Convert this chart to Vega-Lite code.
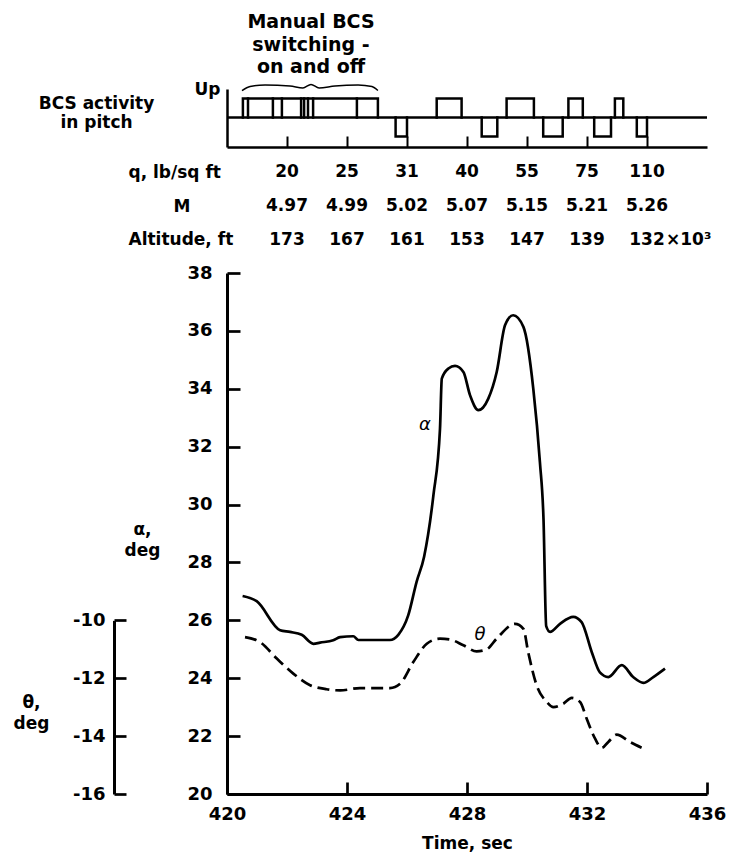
{
  "$schema": "https://vega.github.io/schema/vega-lite/v6.json",
  "background": "white",
  "padding": {"left": 13, "top": 13, "right": 5, "bottom": 5},
  "config": {
    "font": "DejaVu Sans",
    "view": {"stroke": null},
    "axis": {"grid": false, "labelFont": "DejaVu Sans", "labelFontWeight": "bold", "labelColor": "black", "titleFont": "DejaVu Sans", "titleFontWeight": "bold", "titleColor": "black", "domainColor": "black", "tickColor": "black"},
    "text": {"font": "DejaVu Sans", "fontWeight": "bold", "color": "black"},
    "title": {"font": "DejaVu Sans", "fontWeight": "bold", "color": "black"}
  },
  "spacing": 13,
  "vconcat": [
    {
      "width": 480,
      "height": 58,
      "title": {"text": ["Manual BCS", "switching -", "on and off"], "anchor": "start", "frame": "group", "align": "center", "dx": 84, "fontSize": 19, "lineHeight": 22.5, "offset": 3},
      "layer": [
        {
          "data": {"values": [{"level": 0}]},
          "mark": {"type": "rule", "color": "black", "strokeWidth": 2.5},
          "encoding": {"y": {"field": "level", "type": "quantitative", "scale": {"domain": [-1.55, 1.5], "nice": false, "zero": false},
            "axis": {"values": [1.5], "labelExpr": "'Up'", "ticks": false, "domainWidth": 2.5, "labelFontSize": 17, "labelPadding": 7,
              "title": ["BCS activity", "in pitch"], "titleAngle": 0, "titleAlign": "center", "titleBaseline": "middle", "titleX": -131, "titleY": 14.5, "titleFontSize": 17, "titleLineHeight": 19}}}
        },
        {
          "data": {"values": [
            {"seg": "m", "t": 420.53, "level": 0}, {"seg": "m", "t": 420.53, "level": 1}, {"seg": "m", "t": 425.03, "level": 1}, {"seg": "m", "t": 425.03, "level": 0},
            {"seg": "v1", "t": 420.70, "level": 0}, {"seg": "v1", "t": 420.70, "level": 1},
            {"seg": "v2", "t": 421.53, "level": 0}, {"seg": "v2", "t": 421.53, "level": 1},
            {"seg": "v3", "t": 421.83, "level": 0}, {"seg": "v3", "t": 421.83, "level": 1},
            {"seg": "v4", "t": 422.47, "level": 0}, {"seg": "v4", "t": 422.47, "level": 1},
            {"seg": "v5", "t": 422.57, "level": 0}, {"seg": "v5", "t": 422.57, "level": 1},
            {"seg": "v6", "t": 422.70, "level": 0}, {"seg": "v6", "t": 422.70, "level": 1},
            {"seg": "v7", "t": 422.87, "level": 0}, {"seg": "v7", "t": 422.87, "level": 1},
            {"seg": "v8", "t": 424.33, "level": 0}, {"seg": "v8", "t": 424.33, "level": 1},
            {"seg": "u1", "t": 426.99, "level": 0}, {"seg": "u1", "t": 426.99, "level": 1}, {"seg": "u1", "t": 427.82, "level": 1}, {"seg": "u1", "t": 427.82, "level": 0},
            {"seg": "u2", "t": 429.32, "level": 0}, {"seg": "u2", "t": 429.32, "level": 1}, {"seg": "u2", "t": 430.23, "level": 1}, {"seg": "u2", "t": 430.23, "level": 0},
            {"seg": "u3", "t": 431.38, "level": 0}, {"seg": "u3", "t": 431.38, "level": 1}, {"seg": "u3", "t": 431.86, "level": 1}, {"seg": "u3", "t": 431.86, "level": 0},
            {"seg": "u4", "t": 432.93, "level": 0}, {"seg": "u4", "t": 432.93, "level": 1}, {"seg": "u4", "t": 433.21, "level": 1}, {"seg": "u4", "t": 433.21, "level": 0},
            {"seg": "d1", "t": 425.62, "level": 0}, {"seg": "d1", "t": 425.62, "level": -1}, {"seg": "d1", "t": 426.0, "level": -1}, {"seg": "d1", "t": 426.0, "level": 0},
            {"seg": "d2", "t": 428.49, "level": 0}, {"seg": "d2", "t": 428.49, "level": -1}, {"seg": "d2", "t": 429.01, "level": -1}, {"seg": "d2", "t": 429.01, "level": 0},
            {"seg": "d3", "t": 430.54, "level": 0}, {"seg": "d3", "t": 430.54, "level": -1}, {"seg": "d3", "t": 431.19, "level": -1}, {"seg": "d3", "t": 431.19, "level": 0},
            {"seg": "d4", "t": 432.24, "level": 0}, {"seg": "d4", "t": 432.24, "level": -1}, {"seg": "d4", "t": 432.8, "level": -1}, {"seg": "d4", "t": 432.8, "level": 0},
            {"seg": "d5", "t": 433.66, "level": 0}, {"seg": "d5", "t": 433.66, "level": -1}, {"seg": "d5", "t": 434.0, "level": -1}, {"seg": "d5", "t": 434.0, "level": 0}
          ]},
          "transform": [{"window": [{"op": "row_number", "as": "ord"}]}],
          "mark": {"type": "line", "color": "black", "strokeWidth": 2.5, "strokeJoin": "miter", "strokeCap": "square"},
          "encoding": {
            "x": {"field": "t", "type": "quantitative", "scale": {"domain": [420, 436], "nice": false, "zero": false},
              "axis": {"orient": "bottom", "values": [422, 424, 426, 428, 430, 432, 434], "labels": false, "tickSize": -11, "tickWidth": 2, "domainWidth": 2.5, "title": null}},
            "y": {"field": "level", "type": "quantitative"},
            "detail": {"field": "seg", "type": "nominal"},
            "order": {"field": "ord", "type": "quantitative"}
          }
        },
        {
          "data": {"values": [
            {"t": 420.5, "level": 1.42}, {"t": 420.77, "level": 1.63}, {"t": 421.27, "level": 1.71}, {"t": 422.1, "level": 1.66},
            {"t": 422.53, "level": 1.55}, {"t": 422.8, "level": 1.74}, {"t": 423.07, "level": 1.55}, {"t": 423.6, "level": 1.66},
            {"t": 424.37, "level": 1.71}, {"t": 424.83, "level": 1.63}, {"t": 425.03, "level": 1.42}
          ]},
          "mark": {"type": "line", "color": "black", "strokeWidth": 1.5, "interpolate": "monotone"},
          "encoding": {"x": {"field": "t", "type": "quantitative"}, "y": {"field": "level", "type": "quantitative"}}
        }
      ]
    },
    {
      "width": 480,
      "height": 90,
      "data": {"values": [
        {"row": "q, lb/sq ft", "t": 422, "value": "20"}, {"row": "q, lb/sq ft", "t": 424, "value": "25"}, {"row": "q, lb/sq ft", "t": 426, "value": "31"},
        {"row": "q, lb/sq ft", "t": 428, "value": "40"}, {"row": "q, lb/sq ft", "t": 430, "value": "55"}, {"row": "q, lb/sq ft", "t": 432, "value": "75"},
        {"row": "q, lb/sq ft", "t": 434, "value": "110"},
        {"row": "M", "t": 422, "value": "4.97"}, {"row": "M", "t": 424, "value": "4.99"}, {"row": "M", "t": 426, "value": "5.02"},
        {"row": "M", "t": 428, "value": "5.07"}, {"row": "M", "t": 430, "value": "5.15"}, {"row": "M", "t": 432, "value": "5.21"},
        {"row": "M", "t": 434, "value": "5.26"},
        {"row": "Altitude, ft", "t": 422, "value": "173"}, {"row": "Altitude, ft", "t": 424, "value": "167"}, {"row": "Altitude, ft", "t": 426, "value": "161"},
        {"row": "Altitude, ft", "t": 428, "value": "153"}, {"row": "Altitude, ft", "t": 430, "value": "147"}, {"row": "Altitude, ft", "t": 432, "value": "139"},
        {"row": "Altitude, ft", "t": 434, "value": "132"}
      ]},
      "layer": [
        {
          "mark": {"type": "text", "fontSize": 17, "align": "center", "baseline": "middle"},
          "encoding": {
            "x": {"field": "t", "type": "quantitative", "scale": {"domain": [420, 436], "nice": false, "zero": false}, "axis": null},
            "y": {"field": "row", "type": "nominal", "sort": ["q, lb/sq ft", "M", "Altitude, ft"],
              "scale": {"type": "point", "padding": 0.34, "align": 0.5},
              "axis": {"domain": false, "ticks": false, "title": null, "labelAlign": "left", "labelFontSize": 17,
                "labelPadding": {"condition": {"test": "datum.value === 'M'", "value": 54}, "value": 99}}},
            "text": {"field": "value", "type": "nominal"}
          }
        },
        {
          "transform": [{"filter": "datum.value == '132'"}],
          "mark": {"type": "text", "fontSize": 17, "align": "left", "baseline": "middle", "dx": 19},
          "encoding": {
            "x": {"field": "t", "type": "quantitative"},
            "y": {"field": "row", "type": "nominal", "sort": ["q, lb/sq ft", "M", "Altitude, ft"]},
            "text": {"value": "×10³"}
          }
        }
      ]
    },
    {
      "width": 480,
      "height": 521,
      "layer": [
        {
          "data": {"values": [
            {"t": 420.52, "alpha": 26.84}, {"t": 420.99, "alpha": 26.66}, {"t": 421.77, "alpha": 25.66}, {"t": 422.1, "alpha": 25.6},
            {"t": 422.49, "alpha": 25.5}, {"t": 422.88, "alpha": 25.19}, {"t": 423.1, "alpha": 25.23}, {"t": 423.54, "alpha": 25.31},
            {"t": 423.77, "alpha": 25.42}, {"t": 424.21, "alpha": 25.45}, {"t": 424.38, "alpha": 25.32}, {"t": 425.43, "alpha": 25.32},
            {"t": 425.71, "alpha": 25.5}, {"t": 426.04, "alpha": 26.17}, {"t": 426.32, "alpha": 27.33}, {"t": 426.57, "alpha": 28.2},
            {"t": 426.88, "alpha": 30.32}, {"t": 427.1, "alpha": 32.62}, {"t": 427.16, "alpha": 34.35}, {"t": 427.38, "alpha": 34.7},
            {"t": 427.6, "alpha": 34.79}, {"t": 427.88, "alpha": 34.58}, {"t": 428.1, "alpha": 33.78}, {"t": 428.38, "alpha": 33.26},
            {"t": 428.71, "alpha": 33.66}, {"t": 428.99, "alpha": 34.58}, {"t": 429.27, "alpha": 36.2}, {"t": 429.54, "alpha": 36.54},
            {"t": 429.88, "alpha": 36.14}, {"t": 430.21, "alpha": 34.0}, {"t": 430.43, "alpha": 31.47}, {"t": 430.55, "alpha": 29.5},
            {"t": 430.64, "alpha": 25.8}, {"t": 430.77, "alpha": 25.6}, {"t": 431.1, "alpha": 25.88}, {"t": 431.54, "alpha": 26.12},
            {"t": 431.82, "alpha": 25.94}, {"t": 432.16, "alpha": 24.9}, {"t": 432.43, "alpha": 24.2}, {"t": 432.71, "alpha": 24.04},
            {"t": 433.16, "alpha": 24.45}, {"t": 433.54, "alpha": 24.04}, {"t": 433.88, "alpha": 23.84}, {"t": 434.21, "alpha": 24.04},
            {"t": 434.6, "alpha": 24.33}
          ]},
          "layer": [
            {
              "mark": {"type": "line", "color": "black", "strokeWidth": 2.7, "interpolate": "monotone"},
              "encoding": {
                "x": {"field": "t", "type": "quantitative", "scale": {"domain": [420, 436], "nice": false, "zero": false},
                  "axis": {"values": [420, 424, 428, 432, 436], "tickSize": -12, "tickWidth": 2.7, "domainWidth": 3, "labelPadding": 23, "labelFontSize": 18, "labelFlush": false,
                    "title": "Time, sec", "titleFontSize": 17, "titlePadding": 12}},
                "y": {"field": "alpha", "type": "quantitative", "scale": {"domain": [20, 38], "nice": false, "zero": false},
                  "axis": {"values": [20, 22, 24, 26, 28, 30, 32, 34, 36, 38], "tickSize": -13, "tickWidth": 2.7, "domainWidth": 3, "labelPadding": 28, "labelFontSize": 18,
                    "title": ["α,", "deg"], "titleAngle": 0, "titleAlign": "center", "titleBaseline": "middle", "titleX": -85, "titleY": 256, "titleFontSize": 17, "titleLineHeight": 21}}
              }
            },
            {
              "data": {"values": [{"t": 426.6, "alpha": 32.74, "label": "α"}]},
              "mark": {"type": "text", "fontSize": 18, "fontStyle": "italic", "fontWeight": "normal", "align": "center", "baseline": "middle"},
              "encoding": {"x": {"field": "t", "type": "quantitative"}, "y": {"field": "alpha", "type": "quantitative"}, "text": {"field": "label"}}
            }
          ]
        },
        {
          "data": {"values": [
            {"t": 420.6, "theta": -10.58}, {"t": 421.1, "theta": -10.75}, {"t": 421.66, "theta": -11.32}, {"t": 422.21, "theta": -11.84},
            {"t": 422.77, "theta": -12.24}, {"t": 423.32, "theta": -12.38}, {"t": 423.77, "theta": -12.42}, {"t": 424.43, "theta": -12.34},
            {"t": 425.43, "theta": -12.34}, {"t": 425.77, "theta": -12.19}, {"t": 426.21, "theta": -11.44}, {"t": 426.66, "theta": -10.81},
            {"t": 427.1, "theta": -10.63}, {"t": 427.43, "theta": -10.66}, {"t": 427.88, "theta": -10.86}, {"t": 428.32, "theta": -11.07},
            {"t": 428.66, "theta": -11.0}, {"t": 428.99, "theta": -10.63}, {"t": 429.6, "theta": -10.12}, {"t": 429.88, "theta": -10.29},
            {"t": 430.04, "theta": -11.1}, {"t": 430.32, "theta": -12.24}, {"t": 430.66, "theta": -12.82}, {"t": 430.88, "theta": -13.0},
            {"t": 431.21, "theta": -12.88}, {"t": 431.49, "theta": -12.68}, {"t": 431.77, "theta": -12.82}, {"t": 431.99, "theta": -13.4},
            {"t": 432.27, "theta": -14.09}, {"t": 432.49, "theta": -14.41}, {"t": 432.71, "theta": -14.2}, {"t": 432.99, "theta": -13.95},
            {"t": 433.43, "theta": -14.2}, {"t": 433.82, "theta": -14.4}
          ]},
          "layer": [
            {
              "mark": {"type": "line", "color": "black", "strokeWidth": 2.7, "strokeDash": [12, 6], "interpolate": "monotone"},
              "encoding": {
                "x": {"field": "t", "type": "quantitative"},
                "y": {"field": "theta", "type": "quantitative", "scale": {"domain": [-16, -10], "range": [521, 347.36], "nice": false, "zero": false},
                  "axis": {"orient": "left", "offset": 113, "values": [-16, -14, -12, -10], "labelExpr": "datum.value + ''", "tickSize": -12, "tickWidth": 2.7, "domainWidth": 3,
                    "labelPadding": 21, "labelFontSize": 18,
                    "title": ["θ,", "deg"], "titleAngle": 0, "titleAlign": "center", "titleBaseline": "middle", "titleX": -83, "titleY": 429, "titleFontSize": 17, "titleLineHeight": 21}}
              }
            },
            {
              "data": {"values": [{"t": 428.43, "theta": -10.52, "label": "θ"}]},
              "mark": {"type": "text", "fontSize": 18, "fontStyle": "italic", "fontWeight": "normal", "align": "center", "baseline": "middle"},
              "encoding": {"x": {"field": "t", "type": "quantitative"}, "y": {"field": "theta", "type": "quantitative"}, "text": {"field": "label"}}
            }
          ]
        }
      ],
      "resolve": {"scale": {"y": "independent"}, "axis": {"y": "independent"}}
    }
  ]
}
